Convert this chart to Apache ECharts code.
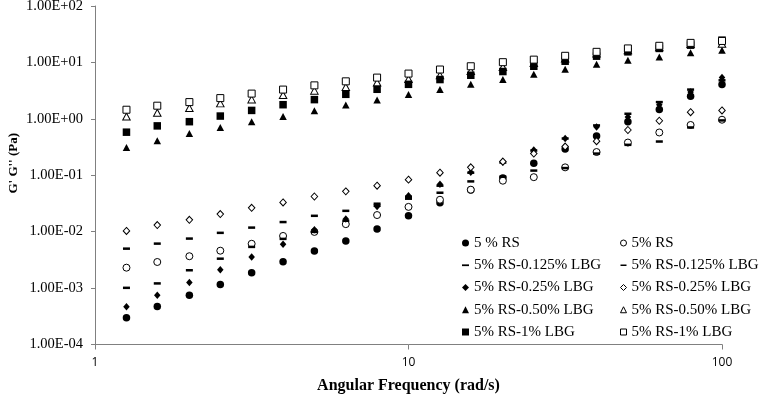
<!DOCTYPE html>
<html>
<head>
<meta charset="utf-8">
<script src="https://cdn.jsdelivr.net/npm/echarts@6/dist/echarts.min.js"></script>
<style>
  html, body { margin: 0; padding: 0; background: #fff; }
  #chart { width: 761px; height: 397px; }
</style>
</head>
<body>
<div id="chart"></div>
<script>
// angular frequency (rad/s)
const freq = [1.26, 1.58, 2.00, 2.51, 3.16, 3.98, 5.01, 6.31, 7.94, 10.0,
              12.6, 15.8, 20.0, 25.1, 31.6, 39.8, 50.1, 63.1, 79.4, 100];

// G' (filled) and G'' (open), Pa
const gpRS      = [0.000297, 0.00047, 0.00075, 0.00116, 0.00187, 0.00294, 0.00455, 0.00685, 0.0111, 0.0191,
                   0.0325, 0.0547, 0.0895, 0.163, 0.291, 0.497, 0.887, 1.47, 2.51, 4.05];
const gppRS     = [0.0023, 0.0029, 0.00367, 0.0046, 0.0061, 0.0084, 0.0099, 0.0136, 0.0197, 0.0275,
                   0.0368, 0.0555, 0.080, 0.0925, 0.138, 0.258, 0.38, 0.573, 0.778, 0.964];
const gpLBG0125 = [0.00101, 0.00121, 0.00207, 0.00332, 0.00537, 0.00745, 0.0099, 0.0156, 0.0288, 0.0416,
                   0.0653, 0.111, 0.168, 0.274, 0.448, 0.764, 1.23, 1.98, 3.30, 4.82];
const gppLBG0125= [0.0050, 0.00614, 0.00754, 0.00953, 0.0118, 0.0148, 0.0191, 0.0234, 0.0313, 0.0384,
                   0.049, 0.0778, 0.0944, 0.121, 0.134, 0.242, 0.346, 0.396, 0.703, 0.937];
const gpLBG025  = [0.000465, 0.00075, 0.00126, 0.00212, 0.00356, 0.0060, 0.0108, 0.0167, 0.028, 0.0434,
                   0.0695, 0.1127, 0.170, 0.280, 0.448, 0.718, 1.08, 1.78, 2.99, 5.38];
const gppLBG025 = [0.0103, 0.0131, 0.0162, 0.0205, 0.0265, 0.033, 0.042, 0.0518, 0.0653, 0.0836,
                   0.111, 0.138, 0.175, 0.242, 0.323, 0.401, 0.634, 0.925, 1.31, 1.41];
const gpLBG050  = [0.31, 0.41, 0.55, 0.70, 0.89, 1.10, 1.39, 1.75, 2.15, 2.69,
                   3.30, 4.09, 4.97, 6.17, 7.57, 9.29, 10.9, 12.5, 14.8, 16.5];
const gppLBG050 = [1.10, 1.28, 1.55, 1.88, 2.21, 2.64, 3.16, 3.66, 4.39, 5.08,
                   5.9, 7.06, 8.3, 9.8, 11.7, 14.4, 16.5, 18.6, 21.1, 21.5];
const gpLBG1    = [0.58, 0.75, 0.89, 1.12, 1.41, 1.78, 2.19, 2.72, 3.34, 4.09,
                   4.97, 5.92, 6.89, 8.55, 10.5, 12.9, 15.4, 17.7, 20.2, 24.8];
const gppLBG1   = [1.45, 1.71, 1.98, 2.33, 2.80, 3.30, 3.92, 4.62, 5.38, 6.34,
                   7.48, 8.55, 10.1, 11.2, 13.1, 15.4, 17.7, 19.7, 22.2, 24.0];

const labels = {
  gpRS: '5 % RS', gppRS: '5% RS',
  gpLBG0125: '5% RS-0.125% LBG', gppLBG0125: '5% RS-0.125% LBG',
  gpLBG025: '5% RS-0.25% LBG', gppLBG025: '5% RS-0.25% LBG',
  gpLBG050: '5% RS-0.50% LBG', gppLBG050: '5% RS-0.50% LBG',
  gpLBG1: '5% RS-1% LBG', gppLBG1: '5% RS-1% LBG'
}

const dash = 'path://M0,0H12V3H0Z'
const filled = { color: '#000', opacity: 1 }
const open = { color: '#fff', borderColor: '#000', borderWidth: 1, opacity: 1 }

function mk(name, vals, symbol, size, style) {
  return {
    name: name,
    type: 'scatter',
    symbol: symbol,
    symbolSize: size,
    itemStyle: style,
    data: freq.map((f, i) => [f, vals[i]])
  }
}

const serif = 'Liberation Serif'

function sci(v) {
  const e = Math.round(Math.log10(v))
  return '1.00E' + (e < 0 ? '-' : '+') + String(Math.abs(e)).padStart(2, '0')
}

const legendBase = {
  orient: 'vertical',
  top: 235,
  padding: 0,
  itemWidth: 7,
  itemHeight: 7,
  itemGap: 6.25,
  formatter: n => labels[n],
  textStyle: { fontFamily: serif, fontSize: 15, lineHeight: 16, color: '#000' }
}

const option = {
  animation: false,
  backgroundColor: '#fff',
  grid: { left: 95, right: 39, top: 6, bottom: 52.5, containLabel: false, outerBoundsMode: 'none' },
  legend: [
    Object.assign({}, legendBase, { left: 462, data: ['gpRS', 'gpLBG0125', 'gpLBG025', 'gpLBG050', 'gpLBG1'] }),
    Object.assign({}, legendBase, { left: 620, itemWidth: 6, itemHeight: 6,
      itemStyle: { borderWidth: 1 },
      data: ['gppRS', 'gppLBG0125', 'gppLBG025', 'gppLBG050', 'gppLBG1'] })
  ],
  xAxis: {
    type: 'log', logBase: 10, min: 1, max: 100,
    name: 'Angular Frequency (rad/s)',
    nameLocation: 'middle', nameGap: 33, nameMoveOverlap: false,
    nameTextStyle: { fontFamily: serif, fontWeight: 'bold', fontSize: 16, color: '#000' },
    axisLine: { lineStyle: { color: '#808080', width: 1 } },
    axisTick: { inside: false, length: 5, lineStyle: { color: '#808080' } },
    axisLabel: { margin: 12, fontFamily: 'Open Sans', fontSize: 12, color: '#000' },
    splitLine: { show: false },
    minorTick: { show: false }
  },
  yAxis: {
    type: 'log', logBase: 10, min: 0.0001, max: 100,
    name: "G' G'' (Pa)",
    nameLocation: 'middle', nameGap: 75, nameMoveOverlap: false,
    nameTextStyle: { fontFamily: serif, fontWeight: 'bold', fontSize: 13, color: '#000', padding: [0, 0, 0, 24] },
    axisLine: { show: true, lineStyle: { color: '#808080', width: 1 } },
    axisTick: { show: true, inside: false, length: 4, lineStyle: { color: '#808080' } },
    axisLabel: { margin: 12, fontFamily: serif, fontSize: 14.5, color: '#000', formatter: sci },
    splitLine: { show: false },
    minorTick: { show: false }
  },
  series: [
    mk('gpRS', gpRS, 'circle', 7.5, filled),
    mk('gppRS', gppRS, 'circle', 7, open),
    mk('gpLBG0125', gpLBG0125, dash, [7, 2.5], filled),
    mk('gppLBG0125', gppLBG0125, dash, [7, 2.5], filled),
    mk('gpLBG025', gpLBG025, 'diamond', [6.5, 7.5], filled),
    mk('gppLBG025', gppLBG025, 'diamond', [6.5, 7], open),
    mk('gpLBG050', gpLBG050, 'triangle', [7.5, 7], filled),
    mk('gppLBG050', gppLBG050, 'triangle', [7.5, 7], open),
    mk('gpLBG1', gpLBG1, 'rect', 7.5, filled),
    mk('gppLBG1', gppLBG1, 'rect', 7, open)
  ]
}

const chart = echarts.init(document.getElementById('chart'))
chart.setOption(option)
</script>
</body>
</html>
